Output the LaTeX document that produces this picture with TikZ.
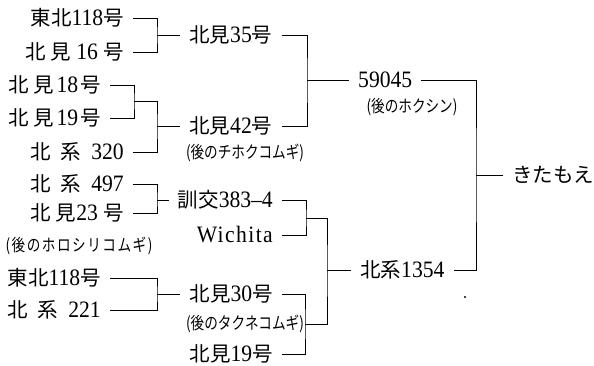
\documentclass[tikz,border=0pt]{standalone}
\usepackage{fontspec}
\setmainfont[FakeStretch=0.92]{Liberation Serif}
\newfontfamily\cjkfam{Noto Sans CJK JP}
\newfontfamily\cjknote[FakeStretch=0.8]{Noto Sans CJK JP}
\newfontfamily\cjknotewide[FakeStretch=0.8,LetterSpace=9]{Noto Sans CJK JP}
\newfontfamily\serifwide[FakeStretch=0.92,LetterSpace=6]{Liberation Serif}
\newcommand\J[1]{{\fontsize{20.5}{24}\cjkfam #1}}
\begin{document}
\begin{tikzpicture}[x=1pt,y=-1pt,
  lbl/.style={inner xsep=9pt, inner ysep=0pt, text height=17pt, text depth=3pt, font=\fontsize{23.5}{26}\selectfont},
  note/.style={inner sep=0pt, font=\fontsize{17}{19}\cjknote},
  ln/.style={line width=0.9pt}]
\useasboundingbox (0,0) rectangle (594,365);
% left column
\node[lbl,anchor=east] (a1) at (133,18) {\J{東北}118\J{号}};
\node[lbl,anchor=east] (a2) at (133,52) {\J{北 見} 16 \J{号}};
\node[lbl,anchor=east] (a3) at (110,85) {\J{北 見}\hspace{3pt}18\hspace{2pt}\J{号}};
\node[lbl,anchor=east] (a4) at (110,118) {\J{北 見}\hspace{3pt}19\hspace{2pt}\J{号}};
\node[lbl,anchor=east] (a5) at (133,152) {\J{北}\hspace{10pt}\J{系}\hspace{10pt}320};
\node[lbl,anchor=east] (a6) at (133,184) {\J{北}\hspace{10pt}\J{系}\hspace{10pt}497};
\node[lbl,anchor=east] (a7) at (133,213) {\J{北 見}23 \J{号}};
\node[note,font=\fontsize{17}{19}\cjknotewide] (n1) at (79,246) {(後のホロシリコムギ)};
\node[lbl,anchor=east] (a8) at (110,278) {\J{東北}118\J{号}};
\node[lbl,anchor=east] (a9) at (110,310) {\J{北}\hspace{10pt}\J{系}\hspace{10pt}221};
% middle column
\node[lbl,anchor=west] (b1) at (180,35) {\J{北見}35\J{号}};
\node[lbl,anchor=west] (b2) at (180,126) {\J{北見}42\J{号}};
\node[note] (n2) at (245,153) {(後のチホクコムギ)};
\node[lbl,anchor=east] (b3) at (282,200) {\J{訓交}383–4};
\node[lbl,anchor=east] (b4) at (282,235) {{\serifwide Wichita}};
\node[lbl,anchor=east] (b5) at (282,294) {\J{北見}30\J{号}};
\node[note] (n3) at (245,324) {(後のタクネコムギ)};
\node[lbl,anchor=east] (b6) at (282,354) {\J{北見}19\J{号}};
% right columns
\node[lbl,anchor=west] (c1) at (349,80) {59045};
\node[note] (n4) at (412,107) {(後のホクシン)};
\node[lbl,anchor=west] (c2) at (351,270) {\J{北系}1354};
\node[lbl,anchor=west] (d) at (503,175) {\J{きたもえ}};
% junctions
\coordinate (j1) at (157,35);
\coordinate (j2) at (134,101);
\coordinate (j3) at (157,126);
\coordinate (j4) at (157,200);
\coordinate (j5) at (157,294);
\coordinate (j6) at (307,80);
\coordinate (j7) at (306,218);
\coordinate (j8) at (305,324);
\coordinate (j9) at (327,270);
\coordinate (j10) at (476,175);
% connectors
\draw[ln] (a1.east) -| (j1) |- (a2.east);
\draw[ln] (j1) -- (b1.west);
\draw[ln] (a3.east) -| (j2) |- (a4.east);
\draw[ln] (j2) -| (j3) |- (a5.east);
\draw[ln] (j3) -- (b2.west);
\draw[ln] (a6.east) -| (j4) |- (a7.east);
\draw[ln] (j4) -- (b3.west);
\draw[ln] (a8.east) -| (j5) |- (a9.east);
\draw[ln] (j5) -- (b5.west);
\draw[ln] (b1.east) -| (j6) |- (b2.east);
\draw[ln] (j6) -- (c1.west);
\draw[ln] (b3.east) -| (j7) |- (b4.east);
\draw[ln] (b5.east) -| (j8) |- (b6.east);
\draw[ln] (j7) -| (j9) |- (j8);
\draw[ln] (j9) -- (c2.west);
\draw[ln] (c1.east) -| (j10) |- (c2.east);
\draw[ln] (j10) -- (d.west);
\fill (465,297) circle (1.2);
\end{tikzpicture}
\end{document}
